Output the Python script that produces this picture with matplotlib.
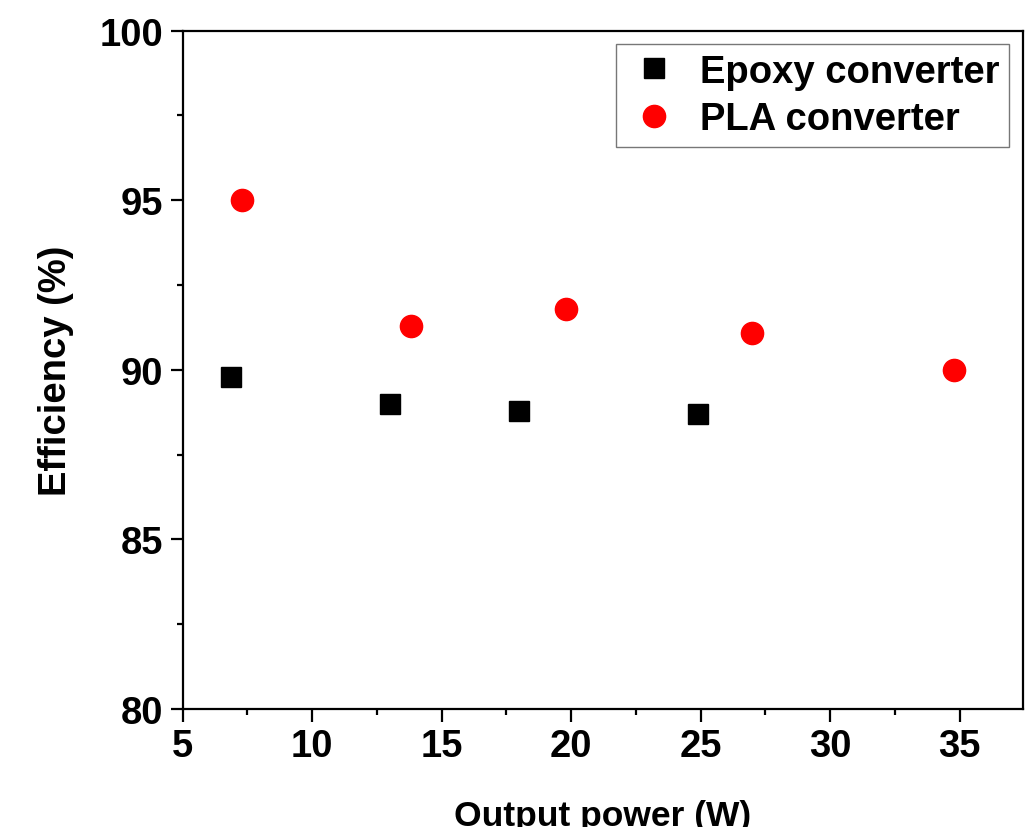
import matplotlib
matplotlib.use('Agg')
import matplotlib.pyplot as plt
from matplotlib.ticker import MultipleLocator

plt.rcParams['font.family'] = ['Liberation Sans', 'DejaVu Sans']
plt.rcParams['font.weight'] = 'bold'

# data
epoxy_power = [6.85, 13.0, 18.0, 24.9]
epoxy_eff = [89.8, 89.0, 88.8, 88.7]
pla_power = [7.3, 13.8, 19.8, 27.0, 34.8]
pla_eff = [95.0, 91.3, 91.8, 91.1, 90.0]

fig = plt.figure(figsize=(10.31, 8.28), dpi=100)
ax = fig.add_axes([0.1772, 0.1425, 0.815, 0.8192])

ax.plot(epoxy_power, epoxy_eff, 's', color='black', markersize=14.5, label='Epoxy converter')
ax.plot(pla_power, pla_eff, 'o', color='red', markersize=16, label='PLA converter')

ax.set_xlim(5, 37.45)
ax.set_ylim(80, 100)
ax.xaxis.set_major_locator(MultipleLocator(5))
ax.xaxis.set_minor_locator(MultipleLocator(2.5))
ax.yaxis.set_major_locator(MultipleLocator(5))
ax.yaxis.set_minor_locator(MultipleLocator(2.5))
ax.tick_params(which='major', direction='out', length=9, width=1.6, labelsize=27.5, pad=5)
ax.tick_params(which='minor', direction='out', length=4.5, width=1.6)
for s in ax.spines.values():
    s.set_linewidth(1.6)

ax.set_xlabel('Output power (W)', fontsize=25.5, fontweight='bold', labelpad=25)
ax.set_ylabel('Efficiency (%)', fontsize=27.5, fontweight='bold', labelpad=18)

leg = ax.legend(loc='upper right', bbox_to_anchor=(0.983, 0.98), fontsize=27.5, frameon=True,
                fancybox=False, edgecolor='#555555', handletextpad=0.45, borderpad=0.25,
                labelspacing=0.3, handlelength=1.5, borderaxespad=0)
leg.get_frame().set_linewidth(1.0)

fig.savefig('out.png', dpi=100)
